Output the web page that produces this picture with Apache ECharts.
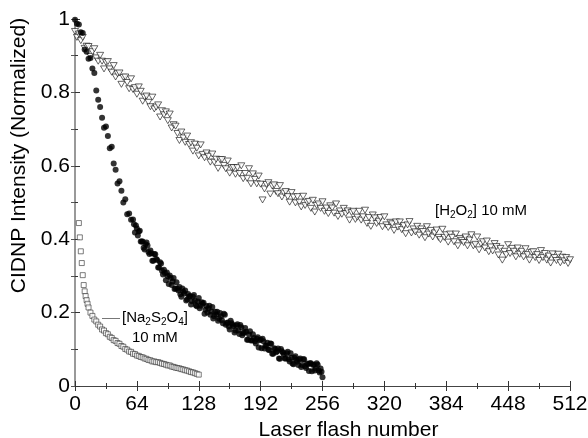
<!DOCTYPE html>
<html lang="en">
  <head>
    <meta charset="UTF-8" />
    <title>CIDNP Intensity decay</title>
    <script src="https://cdn.jsdelivr.net/npm/echarts@6/dist/echarts.min.js"></script>
    <style>
      body { margin: 0; background: #ffffff; }
      #chart { width: 588px; height: 438px; }
    </style>
  </head>
  <body>
    <div id="chart"></div>
    <script>
      // axis ticks
      var xTicks = [0, 64, 128, 192, 256, 320, 384, 448, 512];
      var yTicks = [0, 0.2, 0.4, 0.6, 0.8, 1];

      // [H2O2] 10 mM, open down-triangles
      var h2o2Flash = [0,2,4,6,8,10,12,14,16,18,20,22,24,26,28,30,
        32,34,36,38,40,42,44,46,48,50,52,54,56,58,60,62,
        64,66,68,70,72,74,76,78,80,82,84,86,88,90,92,94,
        96,98,100,102,104,106,108,110,112,114,116,118,120,122,124,126,
        128,130,132,134,136,138,140,142,144,146,148,150,152,154,156,158,
        160,162,164,166,168,170,172,174,176,178,180,182,184,186,188,190,
        192,194,196,198,200,202,204,206,208,210,212,214,216,218,220,222,
        224,226,228,230,232,234,236,238,240,242,244,246,248,250,252,254,
        256,258,260,262,264,266,268,270,272,274,276,278,280,282,284,286,
        288,290,292,294,296,298,300,302,304,306,308,310,312,314,316,318,
        320,322,324,326,328,330,332,334,336,338,340,342,344,346,348,350,
        352,354,356,358,360,362,364,366,368,370,372,374,376,378,380,382,
        384,386,388,390,392,394,396,398,400,402,404,406,408,410,412,414,
        416,418,420,422,424,426,428,430,432,434,436,438,440,442,444,446,
        448,450,452,454,456,458,460,462,464,466,468,470,472,474,476,478,
        480,482,484,486,488,490,492,494,496,498,500,502,504,506,508,510,512];
      var h2o2Int = [.966,.950,.959,.941,.950,.920,.926,.925,.898,.911,
        .919,.894,.885,.901,.885,.864,.882,.884,.864,.855,
        .873,.842,.851,.853,.822,.841,.842,.827,.810,.837,
        .808,.813,.795,.815,.803,.776,.787,.790,.773,.761,
        .787,.755,.760,.766,.733,.750,.739,.747,.723,.741,
        .703,.712,.708,.688,.669,.692,.676,.664,.681,.658,
        .663,.640,.659,.648,.627,.657,.631,.622,.635,.626,
        .610,.632,.610,.618,.593,.617,.617,.601,.592,.613,
        .580,.595,.595,.577,.595,.579,.600,.565,.579,.566,
        .592,.551,.578,.563,.551,.572,.550,.507,.537,.549,
        .554,.523,.545,.548,.530,.524,.546,.515,.526,.530,
        .516,.501,.527,.515,.499,.516,.501,.488,.517,.492,
        .501,.503,.484,.506,.474,.492,.496,.484,.502,.476,
        .485,.470,.491,.485,.471,.496,.462,.477,.468,.484,
        .470,.477,.452,.473,.476,.454,.460,.476,.452,.461,
        .479,.443,.459,.435,.466,.458,.443,.449,.459,.434,
        .461,.439,.432,.446,.442,.424,.447,.433,.447,.426,
        .437,.415,.439,.448,.417,.428,.420,.435,.411,.428,
        .421,.404,.434,.414,.424,.406,.417,.425,.405,.399,
        .427,.405,.412,.392,.414,.405,.393,.414,.382,.402,
        .397,.391,.406,.382,.398,.412,.382,.386,.406,.371,
        .387,.393,.376,.395,.366,.379,.368,.388,.380,.357,
        .375,.343,.367,.358,.385,.361,.375,.367,.352,.376,
        .359,.367,.352,.374,.358,.343,.364,.366,.350,.358,
        .342,.369,.350,.361,.343,.354,.335,.360,.350,.342,
        .359,.336,.351,.341,.350,.334,.344];

      // filled circles, even flashes
      var dotFlash = [0,2,4,6,8,10,12,14,16,18,20,22,24,26,28,30,
        32,34,36,38,40,42,44,46,48,50,52,54,56,58,60,62,
        64,66,68,70,72,74,76,78,80,82,84,86,88,90,92,94,
        96,98,100,102,104,106,108,110,112,114,116,118,120,122,124,126,
        128,130,132,134,136,138,140,142,144,146,148,150,152,154,156,158,
        160,162,164,166,168,170,172,174,176,178,180,182,184,186,188,190,
        192,194,196,198,200,202,204,206,208,210,212,214,216,218,220,222,
        224,226,228,230,232,234,236,238,240,242,244,246,248,250,252,254,256];
      var dotInt = [.998,.987,.985,.964,.962,.917,.911,.892,.894,.865,
        .853,.805,.780,.760,.731,.704,.707,.681,.648,.652,
        .606,.589,.552,.558,.532,.500,.509,.468,.470,.453,
        .454,.418,.429,.421,.394,.394,.372,.391,.365,.369,
        .341,.360,.346,.323,.337,.314,.317,.288,.299,.301,
        .275,.294,.266,.265,.270,.243,.257,.260,.236,.243,
        .222,.243,.232,.217,.240,.219,.224,.197,.218,.211,
        .194,.215,.190,.195,.178,.199,.179,.197,.167,.173,
        .154,.171,.163,.151,.168,.142,.160,.144,.158,.126,
        .140,.124,.141,.122,.129,.105,.127,.129,.102,.110,
        .099,.116,.088,.103,.092,.102,.074,.095,.086,.075,
        .093,.067,.077,.059,.081,.066,.072,.052,.073,.054,
        .061,.041,.062,.058,.042,.062,.042,.048,.024];

      // filled circles, odd flashes of the dense tail
      var dotFlashOdd = [61,63,65,67,69,71,73,75,77,79,81,83,85,87,89,91,93,95,97,99,
        101,103,105,107,109,111,113,115,117,119,121,123,125,127,129,131,133,135,137,139,
        141,143,145,147,149,151,153,155,157,159,161,163,165,167,169,171,173,175,177,179,
        181,183,185,187,189,191,193,195,197,199,201,203,205,207,209,211,213,215,217,219,
        221,223,225,227,229,231,233,235,237,239,241,243,245,247,249,251,253,255];
      var dotIntOdd = [.441,.437,.410,.423,.394,.377,.386,.383,.360,.362,
        .341,.359,.343,.323,.334,.304,.308,.309,.278,.294,
        .285,.264,.283,.260,.250,.266,.252,.233,.251,.245,
        .231,.248,.220,.230,.212,.228,.227,.208,.200,.219,
        .203,.184,.202,.202,.183,.190,.171,.194,.172,.162,
        .178,.167,.146,.165,.151,.166,.138,.146,.148,.126,
        .149,.125,.131,.116,.133,.125,.103,.122,.110,.118,
        .098,.115,.088,.101,.095,.075,.101,.091,.075,.089,
        .073,.089,.061,.077,.071,.057,.075,.057,.073,.049,
        .059,.062,.040,.058,.048,.058,.037,.039];

      // [Na2S2O4] 10 mM, open squares
      var naFlash = [4,5,6,7,8,9,10,11,12,13,14,16,18,20,22,24,26,28,30,32,34,36,38,40,42,44,46,48,50,52,54,56,58,60,62,64,66,68,70,72,74,76,78,80,82,84,86,88,90,92,94,96,98,100,102,104,106,108,110,112,114,116,118,120,122,124,126,128];
      var naInt = [0.444,0.405,0.367,0.335,0.302,0.275,0.258,0.245,0.234,0.224,0.214,
        0.200,0.191,0.181,0.176,0.167,0.162,0.154,0.151,0.144,0.141,
        0.134,0.131,0.125,0.123,0.117,0.115,0.109,0.107,0.101,0.099,
        0.094,0.093,0.088,0.087,0.083,0.082,0.079,0.078,0.075,0.074,
        0.071,0.070,0.067,0.067,0.065,0.065,0.063,0.061,0.060,0.058,
        0.056,0.056,0.053,0.052,0.050,0.049,0.048,0.046,0.045,0.043,
        0.042,0.040,0.038,0.037,0.035,0.033,0.031];

      function pairs(xs, ys) {
        return xs.map(function (x, i) { return [x, ys[i]]; });
      }

      var font = "Liberation Sans, Arial, Helvetica, sans-serif";
      var chart = echarts.init(document.getElementById("chart"));

      var tickStyle = { inside: true, length: 5, lineStyle: { color: "#333", width: 1 } };
      var minorStyle = { show: true, splitNumber: 2, length: 3, lineStyle: { color: "#333", width: 1 } };

      var options = {
        animation: false,
        textStyle: { fontFamily: font },
        grid: { left: 75, right: 18, top: 19, bottom: 52, outerBoundsMode: "none" },
        xAxis: [
          {
            type: "value",
            min: xTicks[0],
            max: xTicks[xTicks.length - 1],
            interval: xTicks[1] - xTicks[0],
            name: "Laser flash number",
            nameLocation: "middle",
            nameGap: 27,
            nameTextStyle: { fontSize: 21, color: "#000", fontFamily: font, padding: [0, 0, 0, 52] },
            axisLine: { lineStyle: { color: "#333", width: 1 } },
            axisTick: tickStyle,
            minorTick: minorStyle,
            splitLine: { show: false },
            axisLabel: { fontSize: 21, color: "#000", margin: 8, fontFamily: font }
          },
          {
            type: "value",
            position: "top",
            min: xTicks[0],
            max: xTicks[xTicks.length - 1],
            interval: xTicks[1] - xTicks[0],
            axisLine: { lineStyle: { color: "#444", width: 1 } },
            axisTick: tickStyle,
            minorTick: minorStyle,
            splitLine: { show: false },
            axisLabel: { show: false }
          }
        ],
        yAxis: [
          {
            type: "value",
            min: yTicks[0],
            max: yTicks[yTicks.length - 1],
            interval: yTicks[1] - yTicks[0],
            name: "CIDNP Intensity (Normalized)",
            nameLocation: "middle",
            nameRotate: 90,
            nameGap: 41,
            nameTextStyle: { fontSize: 21, color: "#000", fontFamily: font, padding: [0, 0, 0, 94] },
            axisLine: { show: true, lineStyle: { color: "#333", width: 1 } },
            axisTick: tickStyle,
            minorTick: minorStyle,
            splitLine: { show: false },
            axisLabel: { fontSize: 21, color: "#000", margin: 5, fontFamily: font }
          },
          {
            type: "value",
            position: "right",
            min: yTicks[0],
            max: yTicks[yTicks.length - 1],
            interval: yTicks[1] - yTicks[0],
            axisLine: { show: true, lineStyle: { color: "#999", width: 2 } },
            axisTick: { inside: true, length: 4, lineStyle: { color: "#555", width: 1 } },
            minorTick: { show: true, splitNumber: 2, length: 4, lineStyle: { color: "#555", width: 1 } },
            splitLine: { show: false },
            axisLabel: { show: false }
          }
        ],
        series: [
          {
            name: "[H2O2] 10 mM",
            type: "scatter",
            data: pairs(h2o2Flash, h2o2Int),
            symbol: "triangle",
            symbolRotate: 180,
            symbolSize: [7, 6],
            itemStyle: { color: "#ffffff", borderColor: "#111", borderWidth: 0.8 }
          },
          {
            name: "[Na2S2O4] 10 mM",
            type: "scatter",
            data: pairs(naFlash, naInt),
            symbol: "rect",
            symbolSize: 5,
            itemStyle: { color: "#ffffff", borderColor: "#333", borderWidth: 0.8 }
          },
          {
            name: "filled",
            type: "scatter",
            data: pairs(dotFlash, dotInt).concat(pairs(dotFlashOdd, dotIntOdd)),
            symbol: "circle",
            symbolSize: 6,
            itemStyle: { color: "#000000" }
          }
        ],
        graphic: [
          {
            type: "text",
            left: 435,
            top: 203,
            style: {
              text: "{n|[H}{s|2}{n|O}{s|2}{n|] 10 mM}",
              fill: "#000",
              rich: {
                n: { fontSize: 15, fontFamily: font, lineHeight: 20 },
                s: { fontSize: 10, fontFamily: font, lineHeight: 10, verticalAlign: "bottom" }
              }
            }
          },
          {
            type: "line",
            shape: { x1: 102, y1: 318.5, x2: 120, y2: 318.5 },
            style: { stroke: "#777", lineWidth: 1 }
          },
          {
            type: "text",
            left: 122,
            top: 310,
            style: {
              text: "{n|[Na}{s|2}{n|S}{s|2}{n|O}{s|4}{n|]}",
              fill: "#000",
              rich: {
                n: { fontSize: 15, fontFamily: font, lineHeight: 20 },
                s: { fontSize: 10, fontFamily: font, lineHeight: 10, verticalAlign: "bottom" }
              }
            }
          },
          {
            type: "text",
            left: 132,
            top: 330,
            style: { text: "10 mM", fill: "#000", font: "15px " + font }
          }
        ]
      };

      chart.setOption(options);
    </script>
  </body>
</html>
